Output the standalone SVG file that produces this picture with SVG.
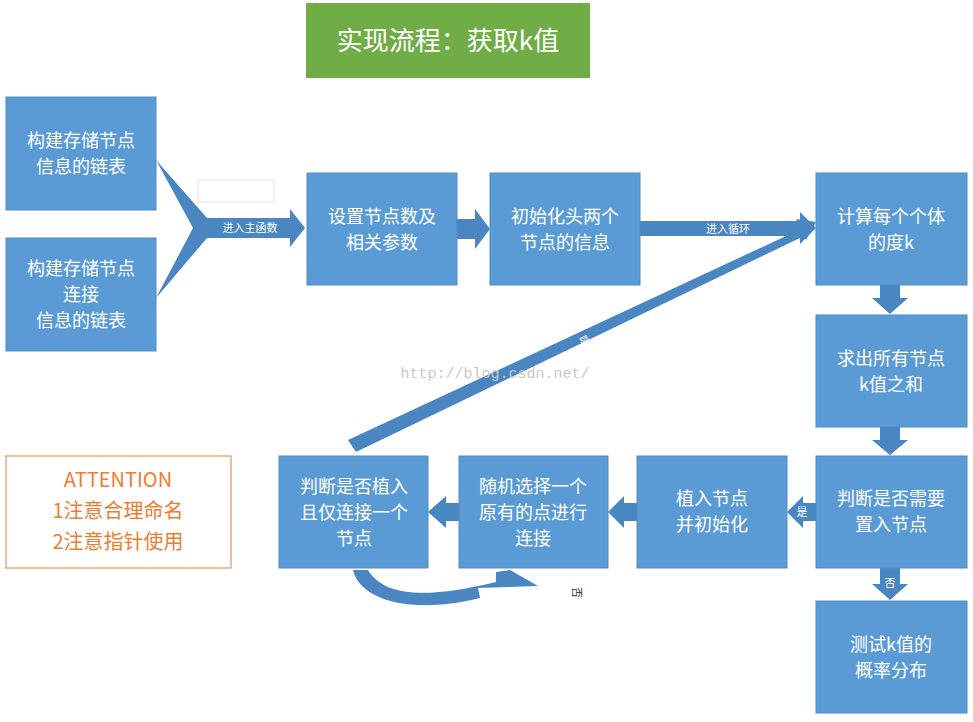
<svg xmlns="http://www.w3.org/2000/svg" width="973" height="722" viewBox="0 0 973 722">
<style>
.b{fill:#5b9bd5;stroke:#4f8bc4;stroke-width:1}
.t{font-family:"Noto Sans CJK SC",sans-serif;font-size:18px;fill:#fff;text-anchor:middle}
.a{fill:#4a86c2}
.s{font-family:"Noto Sans CJK SC",sans-serif;font-size:11px;fill:#fff;text-anchor:middle}
</style>
<rect width="973" height="722" fill="#fff"/>
<g id="title"><rect x="306" y="3" width="284" height="75" fill="#70ad47"/><text x="448" y="50" class="t" style="font-size:26px">实现流程：获取k值</text></g>
<g id="connectors">
<polygon class="a" points="156,160 207,218 290,218 290,209 305,228 290,247 290,238 207,238 156,298 193,228"/>
<text x="250" y="232" class="s">进入主函数</text>
<rect x="198" y="180" width="76" height="22" fill="#fff" stroke="#e4e4e4"/>
<polygon class="a" points="457,219 475,219 475,209 490,229 475,249 475,239 457,239"/>
<polygon class="a" points="640,221 800,221 800,212 816,228 800,244 800,236 640,236"/>
<text x="728" y="233" class="s">进入循环</text>
<polygon class="a" points="348,440 801,229 796,219 816,222 806,240 804,236 356,452"/>
<text x="585" y="345" class="s" transform="rotate(-26 585 341)">是</text>
<polygon class="a" points="880,285 900,285 900,298 908,298 890,314 872,298 880,298"/>
<polygon class="a" points="880,427 900,427 900,440 908,440 890,455 872,440 880,440"/>
<polygon class="a" points="880,568 900,568 900,584 908,584 890,600 872,584 880,584"/>
<text x="890" y="587" class="s">否</text>
<polygon class="a" points="816,503 803,503 803,496 787,512 803,528 803,521 816,521"/>
<text x="802" y="516" class="s">是</text>
<polygon class="a" points="637,503 624,503 624,496 608,512 624,528 624,521 637,521"/>
<polygon class="a" points="459,503 446,503 446,496 428,512 446,528 446,521 459,521"/>
<path class="a" d="M353,570 C360,600 410,615 480,598 L478,588 L538,586 L510,570 L496,572 L496,582 C430,598 385,598 368,570 Z"/>
<text x="573" y="587" font-family="Noto Sans CJK SC,sans-serif" font-size="11" fill="#333" transform="rotate(90 573 587)">否</text>
</g>
<g id="n1"><rect class="b" x="6" y="97" width="150" height="113"/><text class="t" x="81" y="147">构建存储节点</text><text class="t" x="81" y="173">信息的链表</text></g>
<g id="n2"><rect class="b" x="6" y="238" width="150" height="113"/><text class="t" x="81" y="275">构建存储节点</text><text class="t" x="81" y="301">连接</text><text class="t" x="81" y="327">信息的链表</text></g>
<g id="n3"><rect class="b" x="307" y="173" width="150" height="112"/><text class="t" x="382" y="223">设置节点数及</text><text class="t" x="382" y="249">相关参数</text></g>
<g id="n4"><rect class="b" x="490" y="173" width="150" height="112"/><text class="t" x="565" y="223">初始化头两个</text><text class="t" x="565" y="249">节点的信息</text></g>
<g id="n5"><rect class="b" x="816" y="173" width="151" height="112"/><text class="t" x="891" y="223">计算每个个体</text><text class="t" x="891" y="249">的度k</text></g>
<g id="n6"><rect class="b" x="816" y="315" width="151" height="112"/><text class="t" x="891" y="365">求出所有节点</text><text class="t" x="891" y="391">k值之和</text></g>
<g id="n7"><rect class="b" x="816" y="456" width="151" height="112"/><text class="t" x="891" y="505">判断是否需要</text><text class="t" x="891" y="531">置入节点</text></g>
<g id="n8"><rect class="b" x="637" y="456" width="150" height="112"/><text class="t" x="712" y="505">植入节点</text><text class="t" x="712" y="531">并初始化</text></g>
<g id="n9"><rect class="b" x="459" y="456" width="149" height="112"/><text class="t" x="533" y="493">随机选择一个</text><text class="t" x="533" y="519">原有的点进行</text><text class="t" x="533" y="545">连接</text></g>
<g id="n10"><rect class="b" x="279" y="456" width="149" height="112"/><text class="t" x="354" y="493">判断是否植入</text><text class="t" x="354" y="519">且仅连接一个</text><text class="t" x="354" y="545">节点</text></g>
<g id="n11"><rect class="b" x="816" y="601" width="151" height="112"/><text class="t" x="891" y="651">测试k值的</text><text class="t" x="891" y="677">概率分布</text></g>
<g id="note"><rect x="6" y="456" width="225" height="112" fill="#fff" stroke="#ed7d31"/>
<g font-family="Noto Sans CJK SC,sans-serif" font-size="20" fill="#ed7d31" text-anchor="middle"><text x="118" y="487">ATTENTION</text><text x="118" y="518">1注意合理命名</text><text x="118" y="549">2注意指针使用</text></g></g>
<text x="495" y="378" font-family="Liberation Mono,monospace" font-size="15" fill="#c8c8c8" text-anchor="middle">http://blog.csdn.net/</text>
</svg>
